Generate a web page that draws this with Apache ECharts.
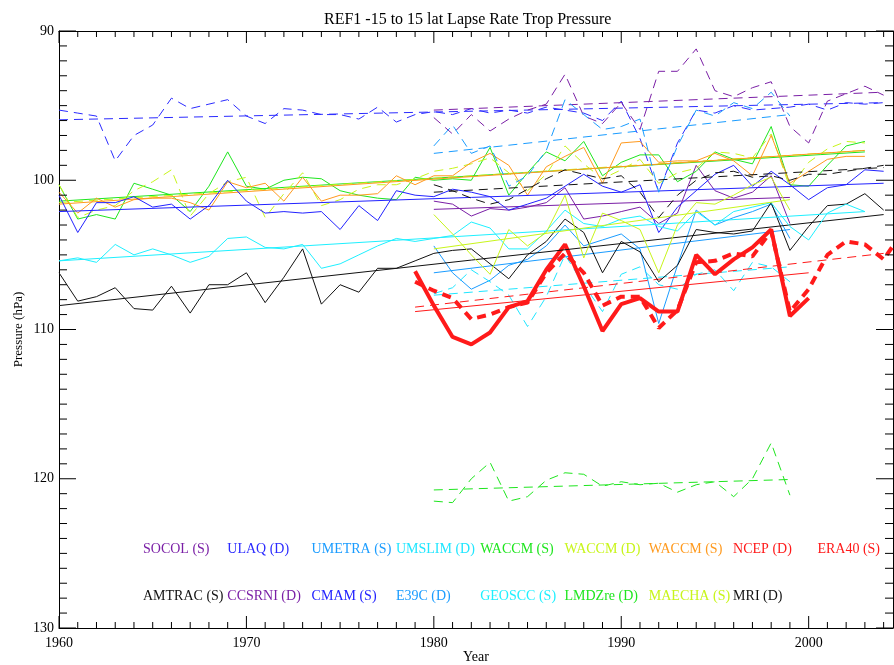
<!DOCTYPE html>
<html>
<head>
<meta charset="utf-8">
<script src="https://cdn.jsdelivr.net/npm/echarts@6/dist/echarts.min.js"></script>
<style>
  html, body { margin: 0; padding: 0; background: #fff; }
  #chart { width: 894px; height: 665px; }
</style>
</head>
<body>
<div id="chart"></div>
<script>
// yearly tropopause pressure (hPa)
const amtrac = [106.2,108.1,107.8,107.2,108.6,108.7,107.1,108.9,107.0,107.0,106.2,108.2,106.5,104.6,108.3,107.0,107.5,105.9,105.9,105.4,
  104.9,104.7,104.6,105.6,106.6,105.0,104.1,102.6,103.5,106.2,104.1,104.8,106.8,105.7,103.3,103.5,103.6,103.4,101.5,104.7,103.1,101.7,101.6,100.9,102.0];
const cmam = [101.0,103.5,101.5,101.5,101.1,101.8,101.6,102.6,101.7,100.0,101.4,102.2,102.1,102.2,102.1,103.3,101.7,102.7,100.7,101.0,
  101.1,100.6,100.8,101.1,102.0,101.6,101.2,100.4,99.6,100.4,100.8,100.3,103.5,101.8,100.7,99.6,99.0,100.4,99.4,100.3,101.3,100.5,100.3,99.3,99.4];
const ulaq = [95.3,95.5,95.7,98.7,97.0,96.3,94.5,95.2,94.9,94.6,95.7,96.2,95.2,95.3,95.6,95.6,95.9,95.1,96.1,95.6,
  95.4,95.6,95.2,95.5,95.3,95.5,95.1,95.3,95.5,96.0,94.7,97.2,100.8,97.5,95.3,95.5,95.0,95.3,95.2,95.1,94.9,95.3,94.8,94.9,94.8];
const geoscc = [105.4,105.2,105.5,104.3,105.0,104.6,105.0,105.5,105.1,103.9,103.8,104.5,104.6,104.3,105.9,105.6,105.0,104.4,103.9,104.1,
  103.9,103.7,102.8,103.2,104.6,104.6,103.4,102.0,102.9,103.1,102.6,102.4,103.1,103.4,102.1,103.0,102.1,101.8,101.5,103.1,104.0,102.2,101.6,102.1];
const waccmS = [100.3,102.6,102.3,102.6,100.2,100.6,101.0,102.1,100.4,98.1,100.4,100.6,100.0,99.8,99.9,100.7,101.0,101.2,101.3,99.8,
  100.0,99.9,100.0,97.8,101.0,99.5,98.1,98.7,97.4,99.7,98.8,98.3,98.3,100.1,99.4,98.1,98.6,98.9,96.4,100.3,100.4,99.0,97.7,97.4];
const waccmD = [100.3,102.5,102.0,101.7,100.7,100.1,99.3,102.4,100.9,100.1,99.8,102.5,100.9,99.5,101.7,101.3,100.6,100.3,100.3,99.9,
  99.4,99.2,98.9,98.5,99.5,100.7,99.6,97.7,98.9,99.9,99.3,98.6,100.2,99.5,99.2,98.1,98.2,98.5,96.9,100.5,98.8,97.9,97.4,97.5];
const waccmO = [100.8,102.2,101.2,101.8,101.3,101.2,101.2,101.5,102.0,100.1,100.5,100.2,101.4,99.8,101.4,101.0,101.0,100.9,99.7,100.3,
  99.7,99.7,98.8,98.2,99.0,101.0,99.1,98.4,97.8,100.2,97.5,97.4,98.8,98.7,98.7,98.2,98.7,99.7,97.0,100.2,99.4,98.6,98.4,98.4];
const socol = [101.4,101.6,102.4,101.9,102.0,101.8,101.5,100.5,102.6,102.4,102.1,101.8,102.9,102.2,99.0,100.7,101.2,100.8,99.7,102.9];
const umetra = [104.4,106.2,107.3,106.7,105.7,105.3,104.4,103.0,104.4,104.0,103.6,104.6,109.6,105.7,102.0,103.0,102.5,102.1,101.6,103.9];
const umslim = [107.6,107.2,106.0,106.8,107.7,109.8,107.8,105.0,107.0,108.8,106.3,105.8,107.0,107.3,106.3,106.0,107.4,105.5,105.8,106.8];
const ccsrni = [95.8,96.9,95.6,96.7,95.9,95.3,94.9,92.9,95.7,96.2,94.8,96.6,92.7,92.7,91.2,94.0,94.4,93.8,93.4,96.4,97.5,94.7,94.2,93.7,94.3];
const e39c = [97.7,96.3,98.2,97.7,100.4,99.7,98.0,94.6,95.6,96.6,96.4,95.9,100.8,97.7,95.3,95.7,94.8,95.2,94.1,95.7];
const lmdz = [121.5,121.6,120.0,118.9,121.5,121.2,120.1,119.6,119.7,120.5,120.2,120.4,120.3,120.9,120.4,120.2,121.2,120.0,117.6,121.1];
const maecha = [102.3,103.6,105.0,106.3,103.3,104.4,103.5,101.0,105.2,102.2,102.7,103.3,106.2,103.0,101.5,101.6,101.0,100.3,99.8,102.0];
const mri = [100.3,100.7,101.2,101.6,101.3,100.6,99.9,99.3,99.6,99.9,99.7,100.8,102.5,101.0,100.0,99.5,99.4,99.8,99.7,100.0,99.6,99.6,99.4,99.2,99.0];
const ncep = [106.8,107.4,107.9,109.3,109.0,108.5,108.2,106.2,104.9,106.2,108.4,107.8,107.8,109.9,108.7,105.5,105.4,104.9,105.1,103.4,108.8,107.3,105.0,104.1,104.3,105.3,103.5];
const era40 = [106.1,108.4,110.5,111.0,110.2,108.5,108.1,106.0,104.3,107.1,110.1,108.3,107.9,108.8,108.8,105.0,106.3,105.3,104.5,103.3,109.1,107.9];

// linear trend end values [first year, last year]
const trends = {
  socol: [101.95, 101.15], ulaq: [95.95, 94.8], umetra: [106.2, 103.3], umslim: [107.7, 105.8],
  waccmS: [101.4, 98.1], waccmD: [101.5, 98.0], waccmO: [101.6, 98.0], ncep: [108.5, 104.9],
  era40: [108.8, 106.2], amtrac: [108.4, 102.3], ccsrni: [95.3, 94.1], cmam: [102.1, 100.2],
  e39c: [98.2, 95.6], geoscc: [105.4, 102.1], lmdz: [120.75, 120.05], maecha: [104.6, 101.3], mri: [100.8, 99.15]
};

// tick values of the box frame
const xMajorTicks = [1960, 1970, 1980, 1990, 2000];
const yMajorTicks = [90, 100, 110, 120, 130];
const xMinorTicks = [];
for (let y = 1961; y <= 2004; y++) if (y % 10 !== 0) xMinorTicks.push(y);
const yMinorTicks = [];
for (let p = 91; p < 130; p++) if (p % 10 !== 0) yMinorTicks.push(p);

// name, data, first year, trend key, colour, dashed, width
const models = [
  ['SOCOL (S)', socol, 1980, 'socol', '#7a1fa6', false, 1],
  ['ULAQ (D)', ulaq, 1960, 'ulaq', '#2b2bff', true, 1],
  ['UMETRA (S)', umetra, 1980, 'umetra', '#1a9cff', false, 1],
  ['UMSLIM (D)', umslim, 1980, 'umslim', '#1ee6ff', true, 1],
  ['WACCM (S)', waccmS, 1960, 'waccmS', '#1ee61e', false, 1],
  ['WACCM (D)', waccmD, 1960, 'waccmD', '#c8f51a', true, 1],
  ['WACCM (S)', waccmO, 1960, 'waccmO', '#ff9a1e', false, 1],
  ['NCEP (D)', ncep, 1979, 'ncep', '#ff1a1a', true, 4],
  ['ERA40 (S)', era40, 1979, 'era40', '#ff1a1a', false, 4],
  ['AMTRAC (S)', amtrac, 1960, 'amtrac', '#111111', false, 1],
  ['CCSRNI (D)', ccsrni, 1980, 'ccsrni', '#7a1fa6', true, 1],
  ['CMAM (S)', cmam, 1960, 'cmam', '#2222ff', false, 1],
  ['E39C (D)', e39c, 1980, 'e39c', '#1a9cff', true, 1],
  ['GEOSCC (S)', geoscc, 1960, 'geoscc', '#1ef0ff', false, 1],
  ['LMDZre (D)', lmdz, 1980, 'lmdz', '#1ee61e', true, 1],
  ['MAECHA (S)', maecha, 1980, 'maecha', '#c8f51a', false, 1],
  ['MRI (D)', mri, 1980, 'mri', '#111111', true, 1]
];

const FONT = '"Liberation Serif", "DejaVu Serif", serif';
const X0 = 1960, X1 = 2004.5, Y0 = 90, Y1 = 130;
const chart = echarts.init(document.getElementById('chart'));

function pairs(start, vals) {
  return vals.map((v, i) => [start + i, v]);
}

var series = [];
models.forEach(function (m) {
  var dash = m[5] ? [9, 6] : 'solid';
  series.push({
    name: m[0], type: 'line', data: pairs(m[2], m[1]), showSymbol: false, symbol: 'none',
    lineStyle: { color: m[4], width: m[6], type: dash }, silent: true
  });
  var t = trends[m[3]];
  var lastYear = Math.min(m[2] + m[1].length - 1, 2004);
  series.push({
    name: m[0] + ' trend', type: 'line', data: [[m[2], t[0]], [lastYear, t[1]]], showSymbol: false, symbol: 'none',
    lineStyle: { color: m[4], width: 1, type: m[5] ? [9, 6] : 'solid' }, silent: true
  });
});

// inward ticks on all four sides: [value, 0 = x / 1 = y, major flag]
var tickData = [];
xMajorTicks.forEach(v => tickData.push([v, 0, 1]));
xMinorTicks.forEach(v => tickData.push([v, 0, 0]));
yMajorTicks.forEach(v => tickData.push([v, 1, 1]));
yMinorTicks.forEach(v => tickData.push([v, 1, 0]));

series.push({
  type: 'custom', data: tickData, silent: true, clip: false, z: 10,
  encode: { x: -1, y: -1 },
  renderItem: function (params, api) {
    var v = api.value(0), isY = api.value(1) === 1, major = api.value(2) === 1;
    var st = { stroke: '#000', lineWidth: 1 };
    if (!isY) {
      var len = major ? 12 : 6;
      var b = api.coord([v, Y1]), t = api.coord([v, Y0]);
      return { type: 'group', children: [
        { type: 'line', shape: { x1: b[0], y1: b[1], x2: b[0], y2: b[1] - len }, style: st },
        { type: 'line', shape: { x1: t[0], y1: t[1], x2: t[0], y2: t[1] + len }, style: st }
      ] };
    }
    var len2 = major ? 17 : 8;
    var l = api.coord([X0, v]), r = api.coord([X1, v]);
    return { type: 'group', children: [
      { type: 'line', shape: { x1: l[0], y1: l[1], x2: l[0] + len2, y2: l[1] }, style: st },
      { type: 'line', shape: { x1: r[0], y1: r[1], x2: r[0] - len2, y2: r[1] }, style: st }
    ] };
  }
});

function xAx(pos, labels) {
  return {
    type: 'value', position: pos, min: X0, max: X1, interval: 10,
    axisLine: { show: true, onZero: false, lineStyle: { color: '#000', width: 1 } },
    axisTick: { show: false },
    axisLabel: {
      show: labels, color: '#000', fontFamily: FONT, fontSize: 14, margin: 8,
      formatter: v => (v % 10 === 0 ? String(v) : '')
    },
    splitLine: { show: false },
    name: labels ? 'Year' : '', nameLocation: 'middle', nameGap: 22, nameMoveOverlap: false,
    nameTextStyle: { color: '#000', fontFamily: FONT, fontSize: 14 }
  };
}

function yAx(pos, labels) {
  return {
    type: 'value', position: pos, inverse: true, min: Y0, max: Y1, interval: 10,
    axisLine: { show: true, onZero: false, lineStyle: { color: '#000', width: 1 } },
    axisTick: { show: false },
    axisLabel: { show: labels, color: '#000', fontFamily: FONT, fontSize: 14, margin: 5 },
    splitLine: { show: false },
    name: labels ? 'Pressure (hPa)' : '', nameLocation: 'middle', nameGap: 34, nameMoveOverlap: false,
    nameTextStyle: { color: '#000', fontFamily: FONT, fontSize: 13 }
  };
}

// legend laid out as two rows of coloured text
var legendRows = [
  ['SOCOL (S)', 'ULAQ (D)', 'UMETRA (S)', 'UMSLIM (D)', 'WACCM (S)', 'WACCM (D)', 'WACCM (S)', 'NCEP (D)', 'ERA40 (S)'],
  ['AMTRAC (S)', 'CCSRNI (D)', 'CMAM (S)', 'E39C (D)', 'GEOSCC (S)', 'LMDZre (D)', 'MAECHA (S)', 'MRI (D)']
];
var legendColors = [
  ['#7a1fa6', '#2b2bff', '#1a9cff', '#1ee6ff', '#1ee61e', '#c8f51a', '#ff9a1e', '#ff1a1a', '#ff1a1a'],
  ['#111111', '#7a1fa6', '#2222ff', '#1a9cff', '#1ef0ff', '#1ee61e', '#c8f51a', '#111111']
];
var graphics = [];
legendRows.forEach(function (row, r) {
  row.forEach(function (txt, c) {
    graphics.push({
      type: 'text', left: 143 + c * 84.3, top: r === 0 ? 542 : 589, silent: true,
      style: { text: txt, fill: legendColors[r][c], font: '14px ' + FONT }
    });
  });
});

chart.setOption({
  animation: false,
  backgroundColor: '#fff',
  title: {
    text: 'REF1 -15 to 15 lat Lapse Rate Trop Pressure', left: 319, top: 7,
    textStyle: { color: '#000', fontFamily: FONT, fontWeight: 'normal', fontSize: 16 }
  },
  grid: { left: 59, right: 1, top: 31, bottom: 37, outerBoundsMode: 'none', containLabel: false },
  xAxis: [xAx('bottom', true), xAx('top', false)],
  yAxis: [yAx('left', true), yAx('right', false)],
  graphic: graphics,
  series: series
});
</script>
</body>
</html>
